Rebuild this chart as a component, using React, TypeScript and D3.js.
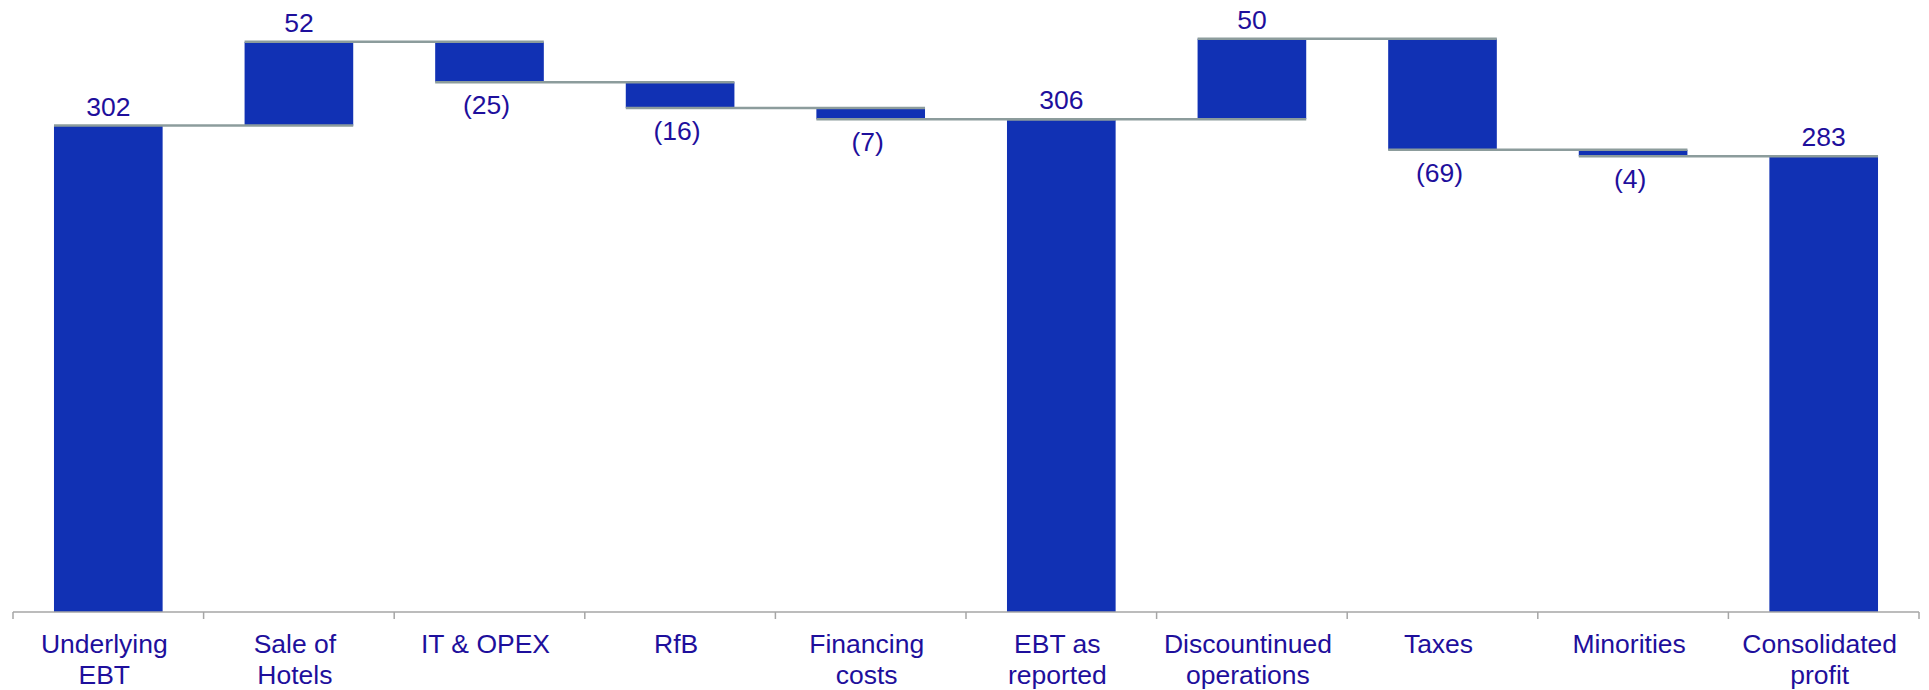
import React from "react";
import * as d3 from "d3";

const categories: string[][] = [
  ["Underlying", "EBT"],
  ["Sale of", "Hotels"],
  ["IT & OPEX"],
  ["RfB"],
  ["Financing", "costs"],
  ["EBT as", "reported"],
  ["Discountinued", "operations"],
  ["Taxes"],
  ["Minorities"],
  ["Consolidated", "profit"],
];
const values: number[] = [302, 52, -25, -16, -7, 306, 50, -69, -4, 283];
const isTotal: boolean[] = [true, false, false, false, false, true, false, false, false, true];
const yDomain: [number, number] = [0, 380];

const W = 1929;
const H = 690;
const BAR_COLOR = "#1131b4";
const TEXT_COLOR = "#1e0f9c";
const CONNECTOR_COLOR = "#8c9c9c";
const AXIS_COLOR = "#a6a6a6";
const FONT = "'Liberation Sans', Arial, sans-serif";
const FS = 26.5;

export default function App() {
  const x = d3
    .scaleBand<number>()
    .domain(d3.range(categories.length))
    .range([13, 1919])
    .padding(0);
  const y = d3.scaleLinear().domain(yDomain).range([612, 0]);
  const step = x.bandwidth();
  const barW = step * 0.57;

  let running = 0;
  const bars = values.map((v, i) => {
    let start: number, end: number;
    if (isTotal[i]) {
      start = 0;
      end = v;
    } else {
      start = running;
      end = running + v;
    }
    running = end;
    const cx = (x(i) as number) + step / 2;
    return { i, v, start, end, cx, x0: cx - barW / 2, x1: cx + barW / 2 };
  });

  const fmt = (v: number) => (v < 0 ? `(${Math.abs(v)})` : `${v}`);

  return (
    <svg
      width={W}
      height={H}
      style={{ position: "absolute", left: 0, top: 0, display: "block", background: "#fff" }}
    >
      {bars.map((b) => (
        <rect
          key={"bar" + b.i}
          x={b.x0}
          y={y(Math.max(b.start, b.end))}
          width={barW}
          height={Math.abs(y(b.start) - y(b.end))}
          fill={BAR_COLOR}
        />
      ))}
      {bars.slice(0, -1).map((b, k) => {
        const next = bars[k + 1];
        return (
          <line
            key={"conn" + k}
            x1={b.x0}
            x2={next.x1}
            y1={y(b.end)}
            y2={y(b.end)}
            stroke={CONNECTOR_COLOR}
            strokeWidth={2.5}
          />
        );
      })}
      {/* axis */}
      <line x1={13} x2={1919} y1={612} y2={612} stroke={AXIS_COLOR} strokeWidth={1.5} />
      {d3.range(categories.length + 1).map((k) => {
        const tx = k < categories.length ? (x(k) as number) : 1919;
        return (
          <line
            key={"tick" + k}
            x1={tx}
            x2={tx}
            y1={612}
            y2={619}
            stroke={AXIS_COLOR}
            strokeWidth={1.5}
          />
        );
      })}
      {/* value labels */}
      {bars.map((b) => {
        const top = y(Math.max(b.start, b.end));
        const bottom = y(Math.min(b.start, b.end));
        const ty = b.v >= 0 ? top - 10 : bottom + 32;
        return (
          <text
            key={"val" + b.i}
            x={b.cx}
            dx={b.v >= 0 ? 0 : -3}
            y={ty}
            textAnchor="middle"
            fontFamily={FONT}
            fontSize={FS}
            fill={TEXT_COLOR}
          >
            {fmt(b.v)}
          </text>
        );
      })}
      {/* category labels */}
      {categories.map((lines, i) => {
        const cx = (x(i) as number) + step / 2 - 4;
        return (
          <text
            key={"cat" + i}
            x={cx}
            y={653}
            textAnchor="middle"
            fontFamily={FONT}
            fontSize={FS}
            fill={TEXT_COLOR}
          >
            {lines.map((l, j) => (
              <tspan key={j} x={cx} dy={j === 0 ? 0 : 31}>
                {l}
              </tspan>
            ))}
          </text>
        );
      })}
    </svg>
  );
}
